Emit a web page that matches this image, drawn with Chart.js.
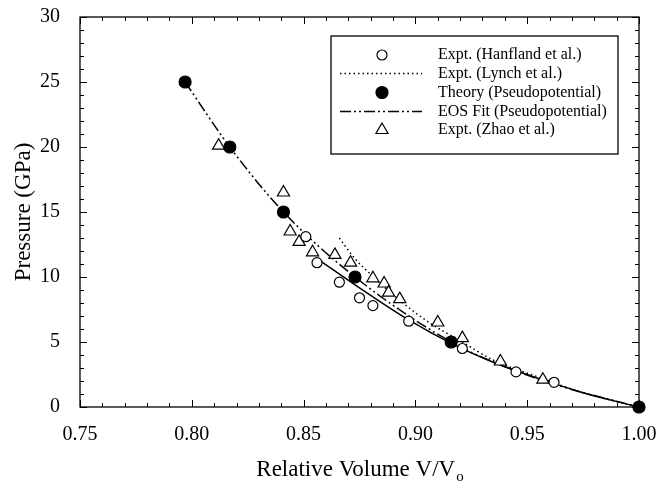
<!DOCTYPE html>
<html>
<head>
<meta charset="utf-8">
<script src="https://cdn.jsdelivr.net/npm/chart.js@4.4.0/dist/chart.umd.min.js"></script>
<style>
  html, body { margin: 0; padding: 0; background: #fff; }
  canvas { display: block; }
</style>
</head>
<body>
<canvas id="eosChart" width="670" height="483"></canvas>
<script>
// axis ticks
const xTickValues = [0.75, 0.80, 0.85, 0.90, 0.95, 1.00];
const yTickValues = [0, 5, 10, 15, 20, 25, 30];

// Expt. (Hanfland et al.) - open circles
const hanflandV = [0.851, 0.856, 0.866, 0.875, 0.881, 0.897, 0.921, 0.945, 0.962];
const hanflandP = [13.1, 11.1, 9.6, 8.4, 7.8, 6.6, 4.5, 2.7, 1.9];

// solid fit through the Hanfland data
const hanflandFitV = [0.857, 0.873, 0.897, 0.916, 0.934, 0.955, 0.975, 1.0];
const hanflandFitP = [11.3, 9.4, 6.7, 4.9, 3.5, 2.2, 1.1, 0];

// Expt. (Lynch et al.) - dotted curve
const lynchV = [0.866, 0.8725, 0.880, 0.893, 0.907, 0.919, 0.935, 0.955, 0.975, 1.0];
const lynchP = [13.0, 11.5, 10.2, 8.2, 6.4, 5.2, 3.6, 2.3, 1.1, 0];

// Theory (Pseudopotential) - filled circles
const theoryV = [0.797, 0.817, 0.841, 0.873, 0.916, 1.0];
const theoryP = [25, 20, 15, 10, 5, 0];

// EOS Fit (Pseudopotential) - dash-dot-dot curve
const eosV = [0.797, 0.817, 0.841, 0.873, 0.916, 0.94, 0.965, 1.0];
const eosP = [25, 20, 15, 10, 5, 3.1, 1.6, 0];

// Expt. (Zhao et al.) - open triangles
const zhaoV = [0.812, 0.841, 0.844, 0.848, 0.854, 0.864, 0.871, 0.881, 0.886, 0.888, 0.893, 0.910, 0.921, 0.938, 0.957];
const zhaoP = [20.1, 16.5, 13.5, 12.7, 11.9, 11.7, 11.1, 9.9, 9.5, 8.8, 8.3, 6.5, 5.3, 3.5, 2.1];

const legendLabels = [
  'Expt. (Hanfland et al.)',
  'Expt. (Lynch et al.)',
  'Theory (Pseudopotential)',
  'EOS Fit (Pseudopotential)',
  'Expt. (Zhao et al.)'
];

const SERIF = '"Liberation Serif", "Times New Roman", serif';
const toPoints = (xs, ys) => xs.map((x, i) => ({ x: x, y: ys[i] }));

const DOTTED = [1.5, 3];
const DASH_DOT_DOT = [11, 3, 2, 3, 2, 3];

// box around the plot with inward major/minor ticks on all sides
const framePlugin = {
  id: 'frame',
  beforeDatasetsDraw(chart) {
    const { ctx, chartArea: a, scales: { x, y } } = chart;
    ctx.save();
    ctx.strokeStyle = '#000';
    ctx.lineWidth = 1.3;
    ctx.strokeRect(a.left, a.top, a.right - a.left, a.bottom - a.top);
    ctx.lineWidth = 1;
    ctx.beginPath();
    for (let i = 0; i <= 25; i++) {
      const px = Math.round(x.getPixelForValue(0.75 + i * 0.01)) + 0.5;
      const len = i % 5 === 0 ? 7 : 4;
      ctx.moveTo(px, a.bottom); ctx.lineTo(px, a.bottom - len);
      ctx.moveTo(px, a.top); ctx.lineTo(px, a.top + len);
    }
    for (let j = 0; j <= 30; j++) {
      const py = Math.round(y.getPixelForValue(j)) + 0.5;
      const len = j % 5 === 0 ? 7 : 4;
      ctx.moveTo(a.left, py); ctx.lineTo(a.left + len, py);
      ctx.moveTo(a.right, py); ctx.lineTo(a.right - len, py);
    }
    ctx.stroke();
    ctx.restore();
  }
};

// axis titles (x title has a subscript o)
const titlesPlugin = {
  id: 'titles',
  afterDraw(chart) {
    const { ctx, chartArea: a } = chart;
    ctx.save();
    ctx.fillStyle = '#000';
    ctx.textBaseline = 'alphabetic';
    ctx.font = '23px ' + SERIF;
    const main = 'Relative Volume V/V';
    const mainW = ctx.measureText(main).width;
    ctx.font = '15px ' + SERIF;
    const subW = ctx.measureText('o').width;
    const startX = (a.left + a.right) / 2 - (mainW + subW) / 2;
    ctx.font = '23px ' + SERIF;
    ctx.textAlign = 'left';
    ctx.fillText(main, startX, 476);
    ctx.font = '15px ' + SERIF;
    ctx.fillText('o', startX + mainW + 1, 481);

    ctx.translate(24, (a.top + a.bottom) / 2);
    ctx.rotate(-Math.PI / 2);
    ctx.font = '23px ' + SERIF;
    ctx.textAlign = 'center';
    ctx.textBaseline = 'middle';
    ctx.fillText('Pressure (GPa)', 0, 0);
    ctx.restore();
  }
};

// boxed legend in the upper right
const legendPlugin = {
  id: 'boxLegend',
  afterDraw(chart) {
    const { ctx } = chart;
    const ds = chart.data.datasets;
    const box = { left: 331, top: 36, right: 618, bottom: 154 };
    const rows = [55, 73.5, 92.5, 111.5, 130];
    const markX = 382, lineL = 340, lineR = 422, textX = 438;
    ctx.save();
    ctx.fillStyle = '#fff';
    ctx.fillRect(box.left, box.top, box.right - box.left, box.bottom - box.top);
    ctx.strokeStyle = '#000';
    ctx.lineWidth = 1.3;
    ctx.strokeRect(box.left, box.top, box.right - box.left, box.bottom - box.top);

    const entries = [ds[0], ds[1], ds[2], ds[3], ds[4]];
    entries.forEach((d, i) => {
      const cy = rows[i];
      ctx.strokeStyle = '#000';
      if (d.showLine) {
        ctx.lineWidth = d.borderWidth;
        ctx.setLineDash(d.borderDash || []);
        ctx.beginPath();
        ctx.moveTo(lineL, cy);
        ctx.lineTo(lineR, cy);
        ctx.stroke();
        ctx.setLineDash([]);
      } else {
        ctx.lineWidth = d.borderWidth;
        ctx.fillStyle = d.backgroundColor;
        const r = d.pointRadius;
        ctx.beginPath();
        if (d.pointStyle === 'triangle') {
          ctx.moveTo(markX, cy - r);
          ctx.lineTo(markX + r * Math.sqrt(3) / 2, cy + r / 2);
          ctx.lineTo(markX - r * Math.sqrt(3) / 2, cy + r / 2);
          ctx.closePath();
        } else {
          ctx.arc(markX, cy, r, 0, Math.PI * 2);
        }
        ctx.fill();
        ctx.stroke();
      }
      ctx.fillStyle = '#000';
      ctx.font = '16px ' + SERIF;
      ctx.textAlign = 'left';
      ctx.textBaseline = 'middle';
      ctx.fillText(legendLabels[i], textX, cy);
    });
    ctx.restore();
  }
};

const pointSet = (label, xs, ys, style, radius, fill) => ({
  label: label,
  data: toPoints(xs, ys),
  showLine: false,
  pointStyle: style,
  pointRadius: radius,
  backgroundColor: fill,
  borderColor: '#000',
  borderWidth: 1.2,
  clip: false,
  order: 0
});

const lineSet = (label, xs, ys, dash, width) => ({
  label: label,
  data: toPoints(xs, ys),
  showLine: true,
  pointRadius: 0,
  borderColor: '#000',
  borderWidth: width,
  borderDash: dash,
  cubicInterpolationMode: 'monotone',
  clip: false,
  order: 1
});

new Chart(document.getElementById('eosChart'), {
  type: 'scatter',
  data: {
    datasets: [
      pointSet(legendLabels[0], hanflandV, hanflandP, 'circle', 5, '#fff'),
      lineSet(legendLabels[1], lynchV, lynchP, DOTTED, 1.5),
      pointSet(legendLabels[2], theoryV, theoryP, 'circle', 6, '#000'),
      lineSet(legendLabels[3], eosV, eosP, DASH_DOT_DOT, 1.5),
      pointSet(legendLabels[4], zhaoV, zhaoP, 'triangle', 7, '#fff'),
      lineSet('Hanfland fit', hanflandFitV, hanflandFitP, [], 1.5)
    ]
  },
  options: {
    responsive: false,
    animation: false,
    devicePixelRatio: 1,
    layout: { padding: { left: 0, top: 17, right: 31, bottom: 0 } },
    plugins: {
      legend: { display: false },
      tooltip: { enabled: false }
    },
    scales: {
      x: {
        type: 'linear',
        min: 0.75,
        max: 1.0,
        grid: { display: false },
        border: { display: false },
        afterBuildTicks: s => { s.ticks = xTickValues.map(v => ({ value: v })); },
        afterFit: s => { s.height = 76; s.paddingLeft = 0; s.paddingRight = 0; },
        ticks: {
          color: '#000',
          padding: 8,
          maxRotation: 0,
          font: { family: SERIF, size: 20 },
          callback: v => Number(v).toFixed(2)
        }
      },
      y: {
        type: 'linear',
        min: 0,
        max: 30,
        grid: { display: false },
        border: { display: false },
        afterBuildTicks: s => { s.ticks = yTickValues.map(v => ({ value: v })); },
        afterFit: s => { s.width = 80; s.paddingTop = 0; s.paddingBottom = 0; },
        ticks: {
          color: '#000',
          padding: 12,
          font: { family: SERIF, size: 20 },
          callback: v => String(v)
        }
      }
    }
  },
  plugins: [framePlugin, titlesPlugin, legendPlugin]
});
</script>
</body>
</html>
